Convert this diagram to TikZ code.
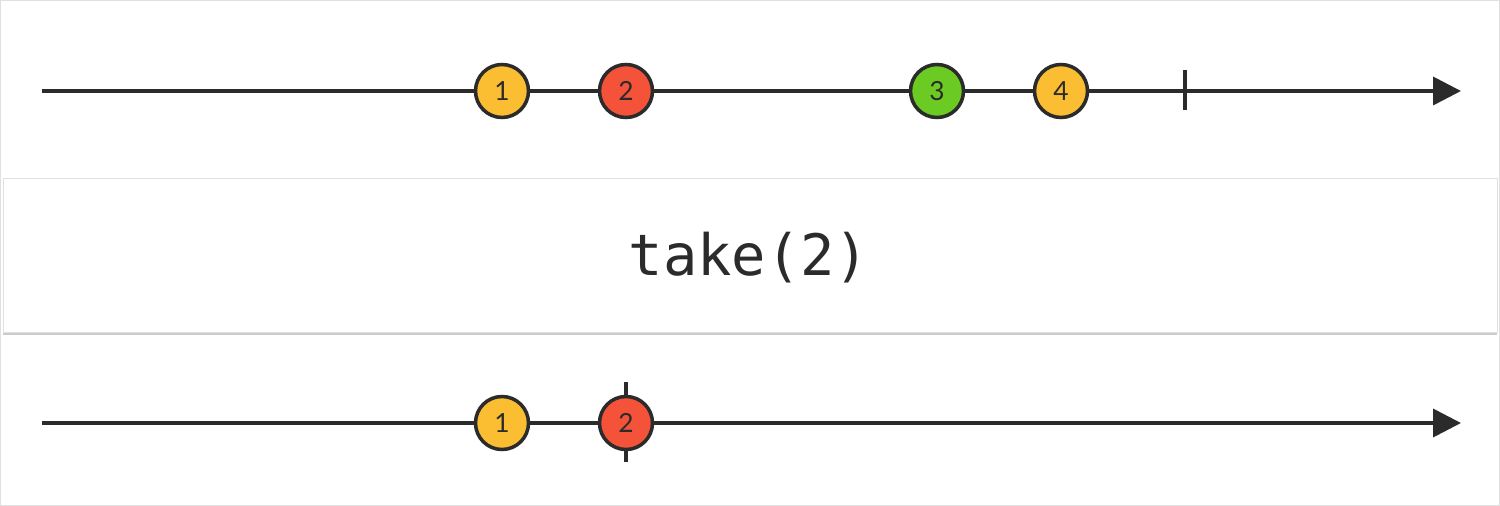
\documentclass[tikz,border=0pt]{standalone}
\usepackage{fontspec}
\setmainfont{Lato}
\setmonofont{DejaVu Sans Mono}
\usetikzlibrary{positioning,arrows.meta,shadows}

\definecolor{inkline}{HTML}{2B2B2B}
\definecolor{marbleyellow}{HTML}{FBBE33}
\definecolor{marblered}{HTML}{F5523A}
\definecolor{marblegreen}{HTML}{6CCB22}

\begin{document}
\begin{tikzpicture}[
  x=0.02cm, y=-0.02cm,
  timeline/.style={line width=2.1pt, inkline, -{Triangle[length=0.56cm, width=0.56cm]}},
  marble/.style={circle, draw=inkline, line width=2pt, minimum size=1.06cm, inner sep=0pt, font=\fontsize{15}{17}\selectfont, text=inkline},
  endtick/.style={line width=2.1pt, inkline},
  opbox/.style={draw=black!12, fill=white, drop shadow={shadow xshift=0pt, shadow yshift=-0.07cm, fill=black!40, opacity=0.5}}
]
% frame
\draw[black!12, line width=0.5pt] (0.5,0.5) rectangle (1499.5,505.5);
\useasboundingbox (0,0) rectangle (1500,506);
% input stream
\coordinate (inStart) at (42,91);
\coordinate (inEnd) at (1461,91);
\draw[timeline] (inStart) -- (inEnd);
\coordinate (inTickTop) at (1185,70);
\coordinate (inTickBot) at (1185,110);
\draw[endtick] (inTickTop) -- (inTickBot);
\node[marble, fill=marbleyellow] (in1) at (502,91) {1};
\node[marble, fill=marblered] (in2) at (626,91) {2};
\node[marble, fill=marblegreen] (in3) at (937,91) {3};
\node[marble, fill=marbleyellow] (in4) at (1061,91) {4};
% operator
\node[opbox, minimum width=29.88cm, minimum height=3.08cm] (op) at (750,255) {};
\node[font=\ttfamily\fontsize{32.5}{38}\selectfont, text=inkline] (opLabel) at (749,258) {take(2)};
% output stream
\coordinate (outStart) at (42,423);
\coordinate (outEnd) at (1461,423);
\draw[timeline] (outStart) -- (outEnd);
\coordinate (outTickTop) at (626,382);
\coordinate (outTickBot) at (626,462);
\draw[endtick] (outTickTop) -- (outTickBot);
\node[marble, fill=marbleyellow] (out1) at (502,423) {1};
\node[marble, fill=marblered] (out2) at (626,423) {2};
\end{tikzpicture}
\end{document}
